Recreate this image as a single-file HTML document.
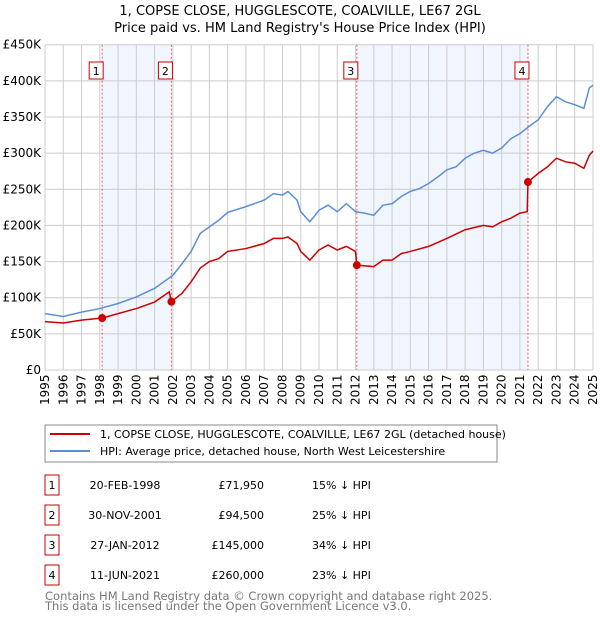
<!DOCTYPE html>
<html><head><meta charset="utf-8"><style>
body{margin:0;width:600px;height:620px;background:#fff;font-family:"DejaVu Sans","Liberation Sans",sans-serif;overflow:hidden}
svg text{font-family:"DejaVu Sans","Liberation Sans",sans-serif}
</style></head><body>
<svg id="c" width="600" height="620">
<text x="300" y="15" text-anchor="middle" font-size="13">1, COPSE CLOSE, HUGGLESCOTE, COALVILLE, LE67 2GL</text>
<text x="300" y="32" text-anchor="middle" font-size="13">Price paid vs. HM Land Registry's House Price Index (HPI)</text>
<g id="plot"></g>
<rect x="45" y="425" width="452" height="37" fill="#fff" stroke="#888"/>
<line x1="50" y1="434" x2="90" y2="434" stroke="#cc0000" stroke-width="2"/>
<text x="100" y="438" font-size="11">1, COPSE CLOSE, HUGGLESCOTE, COALVILLE, LE67 2GL (detached house)</text>
<line x1="50" y1="451" x2="90" y2="451" stroke="#5b8fd4" stroke-width="2"/>
<text x="100" y="455" font-size="11">HPI: Average price, detached house, North West Leicestershire</text>
<g id="tbl" font-size="11"></g>
<text x="45" y="600" font-size="11.5" fill="#777">Contains HM Land Registry data © Crown copyright and database right 2025.</text>
<text x="45" y="610" font-size="11.5" fill="#777">This data is licensed under the Open Government Licence v3.0.</text>
</svg>
<script>
const yTicks=[0,50,100,150,200,250,300,350,400,450];
const yLabels=["£0","£50K","£100K","£150K","£200K","£250K","£300K","£350K","£400K","£450K"];
const years=[1995,1996,1997,1998,1999,2000,2001,2002,2003,2004,2005,2006,2007,2008,2009,2010,2011,2012,2013,2014,2015,2016,2017,2018,2019,2020,2021,2022,2023,2024,2025];
const hpiX=[1995,1996,1997,1998,1999,2000,2001,2002,2002.5,2003,2003.5,2004,2004.5,2005,2006,2007,2007.5,2008,2008.3,2008.8,2009,2009.5,2010,2010.5,2011,2011.5,2012,2012.5,2013,2013.5,2014,2014.5,2015,2015.5,2016,2016.5,2017,2017.5,2018,2018.5,2019,2019.5,2020,2020.5,2021,2021.5,2022,2022.5,2023,2023.5,2024,2024.5,2024.8,2025];
const hpiY=[78,74,80,85,92,101,113,131,147,164,189,198,207,218,226,235,244,242,247,235,219,205,221,228,219,230,219,217,214,228,230,240,247,251,258,267,277,281,293,300,304,300,307,320,327,337,346,364,378,371,367,362,390,394];
const priceX=[1995,1996,1997,1998.13,1999,2000,2001,2001.8,2001.92,2002.5,2003,2003.5,2004,2004.5,2005,2006,2007,2007.5,2008,2008.3,2008.8,2009,2009.5,2010,2010.5,2011,2011.5,2012,2012.07,2013,2013.5,2014,2014.5,2015,2016,2017,2018,2019,2019.5,2020,2020.5,2021,2021.4,2021.44,2022,2022.5,2023,2023.5,2024,2024.5,2024.8,2025];
const priceY=[67,65,69,71.95,78,85,94,108,94.5,106,122,141,150,154,164,168,175,182,182,184,175,164,152,166,173,166,171,164,145,143,152,152,161,164,171,182,194,200,198,205,210,217,219,260,272,281,293,288,286,279,297,303];
const saleLabels=["1","2","3","4"];
const saleX=[1998.13,2001.92,2012.07,2021.44];
const saleY=[71.95,94.5,145,260];
const saleDates=["20-FEB-1998","30-NOV-2001","27-JAN-2012","11-JUN-2021"];
const salePrices=["£71,950","£94,500","£145,000","£260,000"];
const saleDiffs=["15% ↓ HPI","25% ↓ HPI","34% ↓ HPI","23% ↓ HPI"];
const L=45,R=593,T=44.7,B=370;
const xs=v=>L+(v-1995)*(R-L)/30;
const ys=v=>B-v*(B-T)/450;
const NS="http://www.w3.org/2000/svg";
const g=document.getElementById('plot');
function mk(t,a,p){const e=document.createElementNS(NS,t);for(const k in a)e.setAttribute(k,a[k]);(p||g).appendChild(e);return e;}
let e;
e=mk('rect',{x:L,y:T,width:R-L,height:B-T,fill:'#fff'});


for(let i=0;i<2;i++){e=mk('rect',{x:xs(saleX[i*2]),y:T,width:xs(saleX[i*2+1])-xs(saleX[i*2]),height:B-T,fill:'#eef3fc',opacity:0.8});

}
yTicks.forEach((v,i)=>{e=mk('line',{x1:L,x2:R,y1:ys(v),y2:ys(v),stroke:'#ccc'});


e=mk('text',{x:L-4,y:ys(v)+4,'text-anchor':'end','font-size':12});e.textContent=yLabels[i];

});
years.forEach(v=>{e=mk('line',{x1:xs(v),x2:xs(v),y1:T,y2:B,stroke:'#ccc'});


e=mk('text',{x:0,y:0,'font-size':12,transform:`translate(${xs(v)+4},${B+35}) rotate(-90)`});e.textContent=v;

});
saleX.forEach((v,i)=>{e=mk('line',{x1:xs(v),x2:xs(v),y1:T,y2:B,stroke:'#e06060','stroke-dasharray':'2,2'});


e=mk('rect',{x:xs(v)-13,y:62,width:14,height:17,fill:'#fff',stroke:'#cc0000'});


e=mk('text',{x:xs(v)-6,y:75,'text-anchor':'middle','font-size':11});e.textContent=saleLabels[i];

});
e=mk('polyline',{points:hpiX.map((x,i)=>xs(x)+','+ys(hpiY[i])).join(' '),fill:'none',stroke:'#5b8fd4','stroke-width':1.5});


e=mk('polyline',{points:priceX.map((x,i)=>xs(x)+','+ys(priceY[i])).join(' '),fill:'none',stroke:'#cc0000','stroke-width':1.5});


saleX.forEach((v,i)=>{e=mk('circle',{cx:xs(v),cy:ys(saleY[i]),r:4,fill:'#cc0000'});

});
const t=document.getElementById('tbl');
saleLabels.forEach((s,i)=>{const y=483+i*30;
e=mk('rect',{x:45,y:y-8,width:14,height:20,fill:'#fff',stroke:'#cc0000'},t);


e=mk('text',{x:52,y:y+6,'text-anchor':'middle'},t);e.textContent=s;


e=mk('text',{x:125,y:y+6,'text-anchor':'middle'},t);e.textContent=saleDates[i];


e=mk('text',{x:264,y:y+6,'text-anchor':'end'},t);e.textContent=salePrices[i];


e=mk('text',{x:312,y:y+6},t);e.textContent=saleDiffs[i];

});
</script>
</body></html>
